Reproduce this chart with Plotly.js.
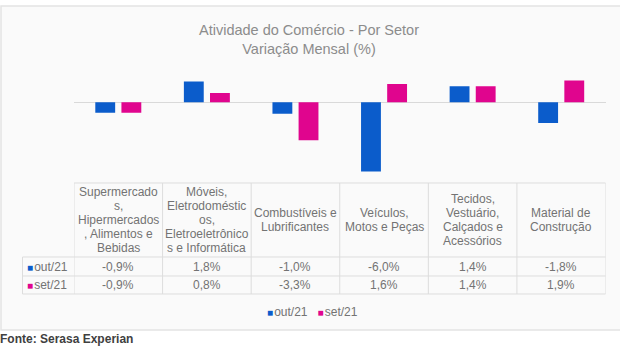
<!DOCTYPE html>
<html>
<head>
<meta charset="utf-8">
<script src="https://cdn.plot.ly/plotly-3.0.1.min.js"></script>
<style>html,body{margin:0;padding:0;background:#fff;}#chart{width:620px;height:350px;}</style>
</head>
<body>
<div id="chart"></div>
<script>
// ---- data ----
const categories = [
  "Supermercado<br>s,<br>Hipermercados<br>, Alimentos e<br>Bebidas",
  "Móveis,<br>Eletrodoméstic<br>os,<br>Eletroeletrônico<br>s e Informática",
  "Combustíveis e<br>Lubrificantes",
  "Veículos,<br>Motos e Peças",
  "Tecidos,<br>Vestuário,<br>Calçados e<br>Acessórios",
  "Material de<br>Construção"
];
const seriesNames = ["out/21", "set/21"];
const out21 = [-0.9, 1.8, -1.0, -6.0, 1.4, -1.8];
const set21 = [-0.9, 0.8, -3.3, 1.6, 1.4, 1.9];
const titleText = "Atividade do Comércio - Por Setor<br>Variação Mensal (%)";
const sourceText = "Fonte: Serasa Experian";

// ---- styling ----
const W = 620, H = 350;
const BLUE = "#0b5ccb", PINK = "#e0058e";
const TXT = "#737373", GRID = "#dddddd";
const FONT = "Liberation Sans, Arial, sans-serif";
const px = x => x / W;
const py = y => 1 - y / H;

const plotLeft = 74, plotRight = 605.5, plotTop = 62, plotBottom = 183;
const tableTop = 183, headerBottom = 257, row1Bottom = 276, row2Bottom = 294, rowHeadLeft = 22.5;

const fmt = v => v.toFixed(1).replace(".", ",") + "%";
const key = col => `<span style="color:${col};font-size:10px">■</span><span style="font-size:4px"> </span>`;

const traces = [
  {type: "bar", name: seriesNames[0], x: categories, y: out21, marker: {color: BLUE}, hoverinfo: "skip"},
  {type: "bar", name: seriesNames[1], x: categories, y: set21, marker: {color: PINK}, hoverinfo: "skip"}
];

const shapes = [];
const annotations = [];

// chart box
shapes.push({type: "rect", xref: "paper", yref: "paper", x0: px(1), x1: px(630), y0: py(6), y1: py(330),
  fillcolor: "#fafafa", line: {color: "#e4e4e4", width: 1.5}, layer: "below"});

// table grid
function hline(y, x0, x1) {
  shapes.push({type: "line", xref: "paper", yref: "paper", x0: px(x0), x1: px(x1), y0: py(y), y1: py(y), line: {color: GRID, width: 1}});
}
function vline(xv, xref, y0, y1) {
  shapes.push({type: "line", xref: xref, yref: "paper", x0: xv, x1: xv, y0: py(y0), y1: py(y1), line: {color: GRID, width: 1}});
}
hline(tableTop, plotLeft, plotRight);
hline(headerBottom, rowHeadLeft, plotRight);
hline(row1Bottom, rowHeadLeft, plotRight);
hline(row2Bottom, rowHeadLeft, plotRight);
vline(px(rowHeadLeft), "paper", headerBottom, row2Bottom);
for (let k = 0; k <= categories.length; k++) vline(k - 0.5, "x", tableTop, row2Bottom);

// header texts
const lineGap = 14, headerMid = (tableTop + headerBottom) / 2;
categories.forEach((c, i) => {
  const lines = c.split("<br>");
  lines.forEach((ln, j) => {
    const yc = headerMid + (j - (lines.length - 1) / 2) * lineGap;
    annotations.push({xref: "x", yref: "paper", x: i, y: py(yc), yanchor: "middle", xanchor: "center",
      text: ln, showarrow: false, font: {family: FONT, size: 12, color: TXT}});
  });
});

// value rows
const rows = [[out21, BLUE, (headerBottom + row1Bottom) / 2], [set21, PINK, (row1Bottom + row2Bottom) / 2]];
rows.forEach(([vals, col, yc], r) => {
  vals.forEach((v, i) => {
    annotations.push({xref: "x", yref: "paper", x: i, y: py(yc), yanchor: "middle", xanchor: "center",
      text: fmt(v), showarrow: false, font: {family: FONT, size: 12, color: TXT}});
  });
  annotations.push({xref: "paper", yref: "paper", x: px(25), y: py(yc), yanchor: "middle", xanchor: "left",
    text: key(col) + seriesNames[r], showarrow: false,
    font: {family: FONT, size: 12, color: TXT}});
});

// legend
annotations.push({xref: "paper", yref: "paper", x: px(312.5), y: py(312), yanchor: "middle", xanchor: "center",
  text: key(BLUE) + seriesNames[0] + "   " + key(PINK) + seriesNames[1],
  showarrow: false, font: {family: FONT, size: 12, color: TXT}});

// source
annotations.push({xref: "paper", yref: "paper", x: 0, y: py(339), yanchor: "middle", xanchor: "left",
  text: "<b>" + sourceText + "</b>", showarrow: false, xshift: -2,
  font: {family: FONT, size: 12, color: "#404040"}});

const layout = {
  width: W, height: H,
  margin: {l: 0, r: 0, t: 0, b: 0, pad: 0},
  paper_bgcolor: "#ffffff", plot_bgcolor: "rgba(0,0,0,0)",
  showlegend: false,
  title: {text: titleText, x: px(309), xanchor: "center", y: py(35), yanchor: "middle", yref: "container",
    font: {family: FONT, size: 14.5, color: "#8c8c8c"}},
  barmode: "group", bargap: 0.41, bargroupgap: 0.24,
  xaxis: {domain: [px(plotLeft), px(plotRight)], type: "category", range: [-0.5, categories.length - 0.5],
    showticklabels: false, showgrid: false, zeroline: false, showline: false, ticks: ""},
  yaxis: {domain: [py(plotBottom), py(plotTop)], range: [-7, 3.5], showticklabels: false, showgrid: false,
    zeroline: true, zerolinecolor: "#d9d9d9", zerolinewidth: 1, showline: false, ticks: ""},
  shapes: shapes,
  annotations: annotations
};

Plotly.newPlot("chart", traces, layout, {staticPlot: true, displayModeBar: false});
</script>
</body>
</html>
